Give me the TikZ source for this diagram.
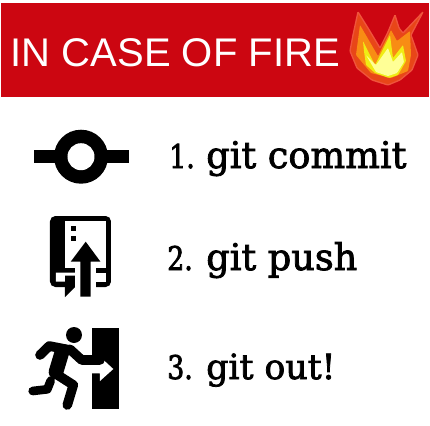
\documentclass[tikz,border=0pt]{standalone}
\usepackage{fontspec}
\setmainfont{Liberation Sans}
\newfontfamily\stepfont[FakeBold=2.2]{DejaVu Serif}
\newfontfamily\numfont[FakeBold=2.2,FakeStretch=0.82]{DejaVu Serif}
\definecolor{bannerred}{RGB}{204,6,17}
\definecolor{flamehalo}{RGB}{240,84,60}
\definecolor{flameouter}{RGB}{232,70,24}
\definecolor{flameorange}{RGB}{248,140,20}
\definecolor{flameyellow}{RGB}{240,236,20}
\definecolor{flamecore}{RGB}{255,255,150}
\tikzset{
  steplabel/.style={anchor=base west,inner sep=0pt,font=\stepfont\fontsize{27.5}{27.5}\selectfont},
  numlabel/.style={anchor=base west,inner sep=0pt,font=\numfont\fontsize{24.5}{24.5}\selectfont},
  flamepart/.style={rounded corners=0.6pt},
  limb/.style={draw=black,line width=7.2pt,line cap=round,line join=round},
}

\begin{document}
\begin{tikzpicture}[x=0.75pt,y=0.75pt,yscale=-1,xscale=1]
\useasboundingbox (0,0) rectangle (430,426);

%Shape: Banner
\fill [bannerred] (1,3) rectangle (429,97);
% Text Node
\node (title) [anchor=base west,inner sep=0pt,text=white,font=\fontsize{30}{30}\selectfont] at (10.5,66) {IN CASE OF FIRE};

%Shape: Flame
\filldraw [fill=flameouter,draw=flamehalo,line width=1pt,flamepart] (358,12) -- (368,28) -- (380,48) -- (388,32) -- (395,15) -- (399,28) -- (403,33) -- (423,12) -- (411,35) -- (418,55) -- (412,70) -- (400,80) -- (388,85) -- (372,80) -- (357,68) -- (350,51) -- (353,35) -- cycle;
\fill [flameorange,flamepart] (360,25) -- (378,56) -- (391,30) -- (397,41) -- (410,31) -- (411,55) -- (408,71) -- (391,78) -- (371,73) -- (356,55) -- cycle;
\fill [flameyellow,flamepart] (363,41) -- (375,65) -- (390,35) -- (393,58) -- (403,45) -- (406,61) -- (398,75) -- (389,78) -- (375,73) -- (366,65) -- (364,51) -- cycle;
\fill [flamecore,flamepart] (366,55) -- (376,65) -- (388,48) -- (393,62) -- (402,52) -- (404,62) -- (397,73) -- (388,76) -- (376,72) -- cycle;

%Shape: Commit icon
\fill [black] (34,150) rectangle (129,163);
\fill [black] (81,156.7) circle [radius=27];
\fill [white] (81,156.7) circle [radius=13.5];

%Shape: Push icon
\fill [black,rounded corners=4pt] (50,216) rectangle (111,287);
\fill [white] (65.5,220.5) rectangle (106.5,268);
\fill [white] (75,262) rectangle (96,297);
\fill [white] (96,272.5) rectangle (106.5,281.5);
\fill [white] (56,272.5) -- (75,272.5) -- (75,275.5) -- (65,275.5) -- (65,281.5) -- (56,281.5) -- cycle;
\fill [black] (65,287) -- (75,287) -- (65,297) -- cycle;
\fill [black] (70.7,226) rectangle (75.7,231);
\fill [black] (70.7,236) rectangle (75.7,241);
\fill [black] (85.7,241.7) -- (100.5,261.7) -- (90.7,261.7) -- (90.7,296.7) -- (80.3,296.7) -- (80.3,261.7) -- (70.7,261.7) -- cycle;

%Shape: Exit icon
\fill [black] (91.7,328) rectangle (119,409);
\fill [white] (91.7,365) -- (100,365) -- (100,356.7) -- (113.3,369) -- (100,381) -- (100,373.3) -- (91.7,373.3) -- cycle;
\fill [black] (74,335) circle [radius=8];
\draw [limb] (40,355) -- (49.3,346) -- (70,350);
\draw [limb] (70,349.3) -- (81.7,360) -- (100,360);
\draw [limb,line width=11pt] (62,352) -- (56,372);
\draw [limb] (55,373.3) -- (73.3,385) -- (67.3,405);
\draw [limb,line width=6.5pt] (32.7,391) -- (47.3,389.3) -- (50.7,380.7);

% Text Node
\node (numone) [numlabel] at (169,168) {1.};
\node (stepone) [steplabel] at (206,168) {git commit};
% Text Node
\node (numtwo) [numlabel] at (167,270) {2.};
\node (steptwo) [steplabel] at (206,270) {git push};
% Text Node
\node (numthree) [numlabel] at (167,379) {3.};
\node (stepthree) [steplabel,font=\stepfont\fontsize{26}{26}\selectfont] at (206,379) {git out!};

\end{tikzpicture}
\end{document}
